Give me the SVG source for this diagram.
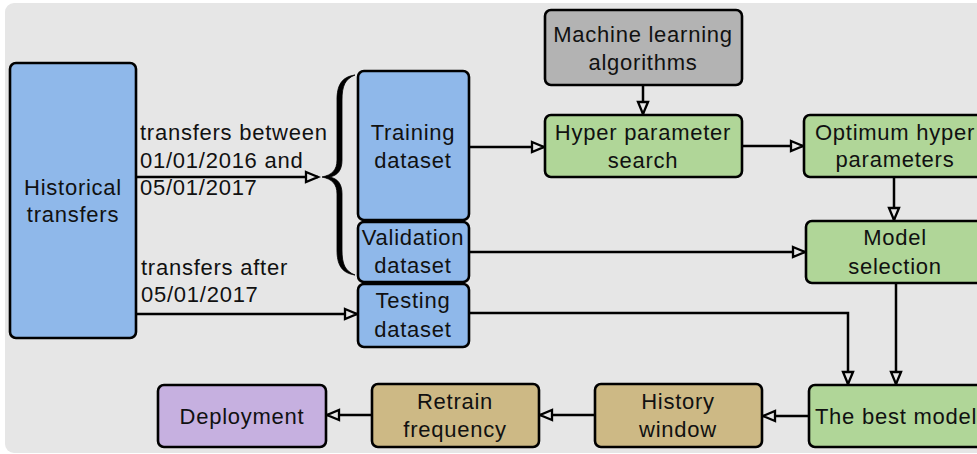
<svg xmlns="http://www.w3.org/2000/svg" width="977" height="454" viewBox="0 0 977 454">
  <style>
    .box { stroke: #000; stroke-width: 2.6; }
    .blue { fill: #8fb8ea; }
    .gray { fill: #b3b3b3; }
    .green { fill: #b0d698; }
    .tan { fill: #cdb985; }
    .purple { fill: #c6b0e0; }
    text { font-family: "Liberation Sans", Arial, Helvetica, sans-serif; font-size: 22px; letter-spacing: 0.75px; fill: #111; }
    .c { text-anchor: middle; }
    .edge { fill: none; stroke: #000; stroke-width: 2.5; marker-end: url(#open); }
  </style>
  <defs>
    <marker id="open" markerUnits="userSpaceOnUse" markerWidth="16" markerHeight="14" refX="13" refY="6" orient="auto" overflow="visible">
      <path d="M1,1 L13,6 L1,11 Z" fill="#e6e6e6" stroke="#000" stroke-width="2.3" stroke-linejoin="miter"/>
    </marker>
  </defs>

  <!-- panel -->
  <rect x="5" y="3" width="990" height="450" rx="9" fill="#e6e6e6"/>

  <!-- connectors -->
  <g id="connectors">
    <path class="edge" d="M136,177 H318"/>
    <path class="edge" d="M136,314 H357"/>
    <path class="edge" d="M643,85 V114"/>
    <path class="edge" d="M469,147 H544"/>
    <path class="edge" d="M742,146 H803"/>
    <path class="edge" d="M894,177 V220"/>
    <path class="edge" d="M469,252 H805"/>
    <path class="edge" d="M469,313 H848 V384"/>
    <path class="edge" d="M896,283 V384"/>
    <path class="edge" d="M809,416 H763"/>
    <path class="edge" d="M595,415 H540"/>
    <path class="edge" d="M372,415 H327"/>
    <!-- curly brace grouping training and validation sets -->
    <path d="M355,75 C341,77 337,86 337,100 L337,160 C337,170 332,175 322,177 C332,179 337,184 337,194 L337,250 C337,264 341,273 355,275 C345,271 342,264 342,250 L342,194 C342,184 338,179 330,177 C338,175 342,170 342,160 L342,100 C342,86 345,79 355,75 Z" fill="#000" stroke="#000" stroke-width="0.8"/>
  </g>

  <!-- edge labels -->
  <g id="labels">
    <text x="140" y="140">transfers between</text>
    <text x="140" y="168">01/01/2016 and</text>
    <text x="140" y="195">05/01/2017</text>
    <text x="141" y="275">transfers after</text>
    <text x="141" y="302">05/01/2017</text>
  </g>

  <g id="historical">
    <rect class="box blue" x="10" y="63" width="126" height="275" rx="6"/>
    <text class="c" x="73" y="195">Historical</text>
    <text class="c" x="73" y="222">transfers</text>
  </g>

  <g id="training">
    <rect class="box blue" x="358" y="71" width="111" height="149" rx="6"/>
    <text class="c" x="413" y="140">Training</text>
    <text class="c" x="413" y="168">dataset</text>
  </g>

  <g id="validation">
    <rect class="box blue" x="358" y="222" width="111" height="60" rx="6"/>
    <text class="c" x="413" y="245">Validation</text>
    <text class="c" x="413" y="273">dataset</text>
  </g>

  <g id="testing">
    <rect class="box blue" x="358" y="284" width="111" height="63" rx="6"/>
    <text class="c" x="413" y="308">Testing</text>
    <text class="c" x="413" y="337">dataset</text>
  </g>

  <g id="ml-algorithms">
    <rect class="box gray" x="545" y="10" width="197" height="75" rx="6"/>
    <text class="c" x="643" y="42">Machine learning</text>
    <text class="c" x="643" y="70">algorithms</text>
  </g>

  <g id="hyper-search">
    <rect class="box green" x="545" y="115" width="197" height="62" rx="6"/>
    <text class="c" x="643" y="140">Hyper parameter</text>
    <text class="c" x="643" y="168">search</text>
  </g>

  <g id="optimum">
    <rect class="box green" x="804" y="115" width="185" height="62" rx="6"/>
    <text class="c" x="895" y="140">Optimum hyper</text>
    <text class="c" x="895" y="167">parameters</text>
  </g>

  <g id="model-selection">
    <rect class="box green" x="806" y="221" width="183" height="62" rx="6"/>
    <text class="c" x="895" y="245">Model</text>
    <text class="c" x="895" y="274">selection</text>
  </g>

  <g id="best-model">
    <rect class="box green" x="809" y="385" width="180" height="62" rx="6"/>
    <text class="c" x="896" y="424">The best model</text>
  </g>

  <g id="history-window">
    <rect class="box tan" x="595" y="384" width="167" height="63" rx="6"/>
    <text class="c" x="678" y="409">History</text>
    <text class="c" x="678" y="437">window</text>
  </g>

  <g id="retrain">
    <rect class="box tan" x="372" y="384" width="167" height="63" rx="6"/>
    <text class="c" x="455" y="409">Retrain</text>
    <text class="c" x="455" y="437">frequency</text>
  </g>

  <g id="deployment">
    <rect class="box purple" x="158" y="385" width="168" height="62" rx="6"/>
    <text class="c" x="242" y="424">Deployment</text>
  </g>
</svg>
